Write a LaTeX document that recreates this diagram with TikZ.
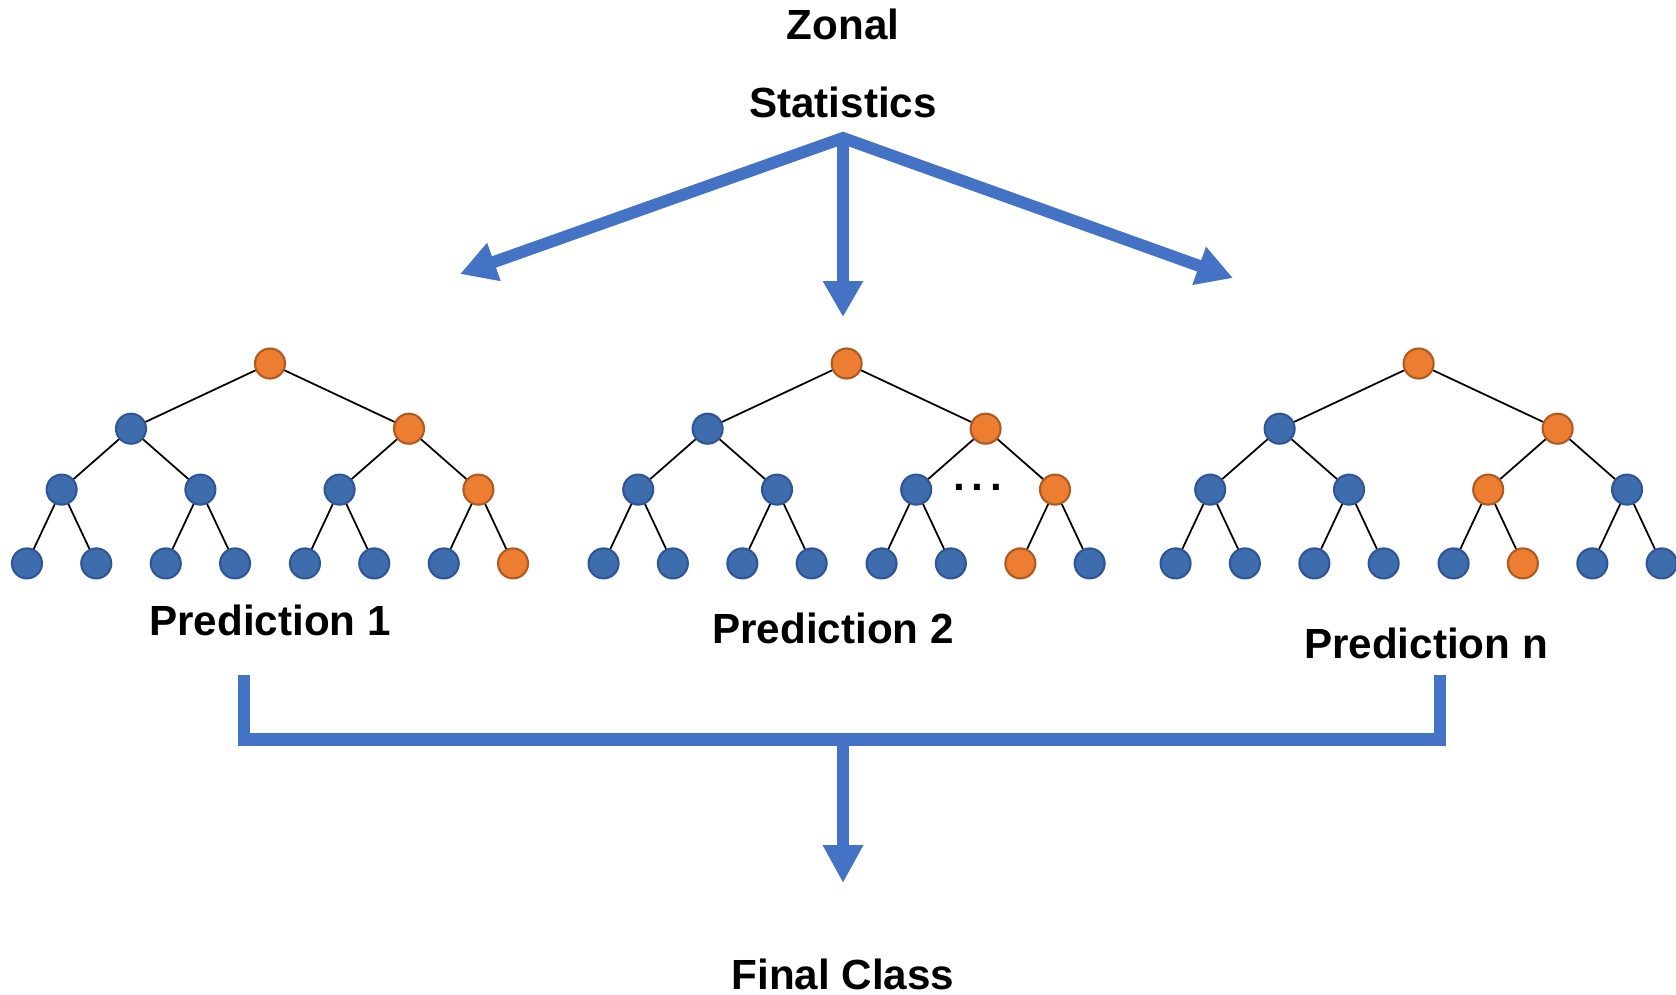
\documentclass[tikz,border=0pt]{standalone}
\usepackage{fontspec}
\setmainfont{Liberation Sans}
\usetikzlibrary{arrows.meta}
\definecolor{treeblue}{HTML}{3E6DAE}
\definecolor{treeblueline}{HTML}{2F5597}
\definecolor{treeorange}{HTML}{ED7D31}
\definecolor{treeorangeline}{HTML}{AE5A21}
\definecolor{flowblue}{HTML}{4472C4}
\tikzset{
  bnode/.style={circle, fill=treeblue, draw=treeblueline, line width=0.6pt,
    minimum size=3mm, inner sep=0pt},
  onode/.style={bnode, fill=treeorange, draw=treeorangeline},
  lbl/.style={font=\fontsize{12}{14}\selectfont\bfseries, anchor=base, inner sep=0pt},
  flow/.style={draw=flowblue, line width=1.2mm, line join=miter,
    -{Triangle[length=3.6mm,width=3.8mm]}},
}
\begin{document}
\begin{tikzpicture}[
    x=0.1mm, y=-0.1mm,
    edge from parent/.style={draw, black, line width=0.5pt},
    level 1/.style={level distance=6.52mm, sibling distance=27.8mm},
    level 2/.style={level distance=6.09mm, sibling distance=13.88mm},
    level 3/.style={level distance=7.38mm, sibling distance=6.93mm}
]
  \useasboundingbox (0,0) rectangle (1676,994);

  \node[lbl] (zonal) at (843,39) {Zonal};
  \node[lbl] (stats) at (843,117) {Statistics};

  % the three trees
  \node[onode] (t1) at (270,363.5) {}
    child {node[bnode] {}
      child {node[bnode] {} child {node[bnode] {}} child {node[bnode] {}}}
      child {node[bnode] {} child {node[bnode] {}} child {node[bnode] {}}}
    }
    child {node[onode] {}
      child {node[bnode] {} child {node[bnode] {}} child {node[bnode] {}}}
      child {node[onode] {} child {node[bnode] {}} child {node[onode] {}}}
    };
  \node[onode] (t2) at (846.6,363.5) {}
    child {node[bnode] {}
      child {node[bnode] {} child {node[bnode] {}} child {node[bnode] {}}}
      child {node[bnode] {} child {node[bnode] {}} child {node[bnode] {}}}
    }
    child {node[onode] {}
      child {node[bnode] {} child {node[bnode] {}} child {node[bnode] {}}}
      child {node[onode] {} child {node[onode] {}} child {node[bnode] {}}}
    };
  \node[onode] (t3) at (1418.6,363.5) {}
    child {node[bnode] {}
      child {node[bnode] {} child {node[bnode] {}} child {node[bnode] {}}}
      child {node[bnode] {} child {node[bnode] {}} child {node[bnode] {}}}
    }
    child {node[onode] {}
      child {node[onode] {} child {node[bnode] {}} child {node[onode] {}}}
      child {node[bnode] {} child {node[bnode] {}} child {node[bnode] {}}}
    };
  \node[lbl] (dots) at (979,501) {·\kern0.1em·\kern0.1em·};

  \node[lbl] (pred1) at (270,635) {Prediction 1};
  \node[lbl] (pred2) at (833,643) {Prediction 2};
  \node[lbl] (predn) at (1426,658) {Prediction n};
  \node[lbl] (final) at (843,989) {Final Class};

  % arrows out of the statistics
  \coordinate (apex) at (843,138);
  \coordinate (tipL) at (460,274);
  \coordinate (tipM) at (843,317);
  \coordinate (tipR) at (1233,278);
  \draw[flow, {Triangle[length=3.6mm,width=3.8mm]}-{Triangle[length=3.6mm,width=3.8mm]}]
    (tipL) -- (apex) -- (tipR);
  \draw[flow] (apex) -- (tipM);

  % joining the predictions
  \coordinate (brL) at (244,675);
  \coordinate (brR) at (1440,675);
  \coordinate (joinR) at (1440,739.5);
  \coordinate (joinM) at (843,739.5);
  \coordinate (tipF) at (843,883);
  \draw[draw=flowblue, line width=1.25mm, line join=miter] (brL) |- (joinR) -- (brR);
  \draw[flow, -{Triangle[length=3.8mm,width=3.8mm]}] (joinM) -- (tipF);
\end{tikzpicture}
\end{document}
